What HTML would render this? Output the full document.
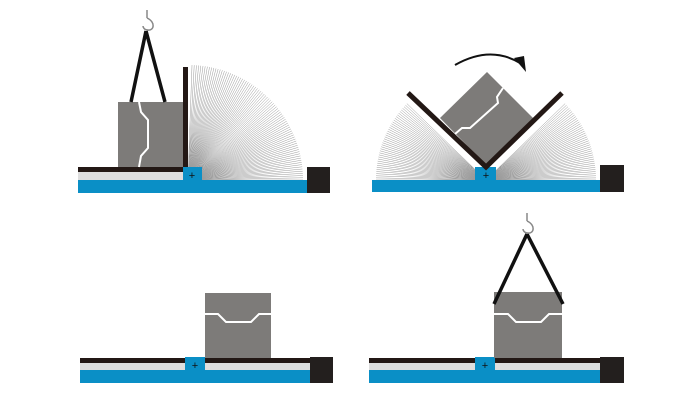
<!DOCTYPE html>
<html><head><meta charset="utf-8"><style>html,body{margin:0;padding:0;background:#fff;width:700px;height:400px;overflow:hidden}</style></head>
<body>
<svg id="s" width="700" height="400" viewBox="0 0 700 400" xmlns="http://www.w3.org/2000/svg">
<g id="fans" stroke="#9a9a9a" stroke-width="0.5" fill="none"></g>
<!-- Panel 1 -->
<rect x="78" y="180" width="229" height="13" fill="#0a8fc6"/>
<rect x="78" y="172" width="105" height="8" fill="#dedede"/>
<rect x="78" y="167" width="105" height="5" fill="#231815"/>
<rect x="183" y="167" width="19" height="14" fill="#0a8fc6"/>
<text x="192" y="179" font-family="Liberation Sans, sans-serif" font-size="11" text-anchor="middle" fill="#111">+</text>
<rect x="307" y="167" width="23" height="26" fill="#231f1e"/>
<rect x="183" y="67" width="5" height="100" fill="#231815"/>
<rect x="118" y="102" width="65" height="65" fill="#7d7b79"/>
<path d="M139 102 L141 112 L148 120 L148 148 L141 156 L139 167" stroke="#fff" stroke-width="2" fill="none"/>
<path d="M146 31 L131 102 M146 31 L165 102" stroke="#111" stroke-width="3.5" fill="none"/>
<path d="M147 10 V18 M147 18 C156 22 154 31 148 30 C144 30 143 27 143 26" stroke="#888" stroke-width="1.5" fill="none"/>
<!-- Panel 2 -->
<rect x="372" y="180" width="229" height="12" fill="#0a8fc6"/>
<rect x="475" y="167" width="21" height="14" fill="#0a8fc6"/>
<text x="486" y="179" font-family="Liberation Sans, sans-serif" font-size="11" text-anchor="middle" fill="#111">+</text>
<rect x="600" y="165" width="24" height="27" fill="#231f1e"/>
<polygon points="487,72 533,118 486,165 440,118" fill="#7d7b79"/>
<path d="M503 88 L497 97 L498 103 L470 128 L462 128 L455 134" stroke="#fff" stroke-width="2" fill="none"/>
<path d="M408 93 L486 167 L562 93" stroke="#231815" stroke-width="5" fill="none"/>
<path d="M455 65 Q490 45 520 63" stroke="#111" stroke-width="2" fill="none"/>
<polygon points="514,58 526,72 524,56" fill="#111"/>
<!-- Panel 3 -->
<rect x="80" y="370" width="230" height="13" fill="#0a8fc6"/>
<rect x="80" y="363" width="230" height="7" fill="#dedede"/>
<rect x="80" y="358" width="230" height="5" fill="#231815"/>
<rect x="185" y="357" width="20" height="14" fill="#0a8fc6"/>
<text x="195" y="369" font-family="Liberation Sans, sans-serif" font-size="11" text-anchor="middle" fill="#111">+</text>
<rect x="310" y="357" width="23" height="26" fill="#231f1e"/>
<rect x="205" y="293" width="66" height="65" fill="#7d7b79"/>
<path d="M205 314 L218 314 L226 322 L251 322 L259 314 L271 314" stroke="#fff" stroke-width="2" fill="none"/>
<!-- Panel 4 -->
<rect x="369" y="370" width="231" height="13" fill="#0a8fc6"/>
<rect x="369" y="363" width="231" height="7" fill="#dedede"/>
<rect x="369" y="358" width="231" height="5" fill="#231815"/>
<rect x="475" y="357" width="20" height="14" fill="#0a8fc6"/>
<text x="485" y="369" font-family="Liberation Sans, sans-serif" font-size="11" text-anchor="middle" fill="#111">+</text>
<rect x="600" y="357" width="24" height="26" fill="#231f1e"/>
<rect x="494" y="292" width="68" height="66" fill="#7d7b79"/>
<path d="M494 314 L508 314 L516 322 L541 322 L549 314 L562 314" stroke="#fff" stroke-width="2" fill="none"/>
<path d="M527 234 L494 304 M527 234 L563 304" stroke="#111" stroke-width="3.5" fill="none"/>
<path d="M527 213 V221 M527 221 C536 225 534 234 528 233 C524 233 523 230 523 229" stroke="#888" stroke-width="1.5" fill="none"/>
</svg>
<script>
var g=document.getElementById('fans'),ns='http://www.w3.org/2000/svg';
function fan(cx,cy,r,a0,a1,n){for(var i=0;i<=n;i++){var a=(a0+(a1-a0)*i/n)*Math.PI/180;var l=document.createElementNS(ns,'line');l.setAttribute('x1',cx);l.setAttribute('y1',cy);l.setAttribute('x2',cx+r*Math.cos(a));l.setAttribute('y2',cy-r*Math.sin(a));g.appendChild(l);}}
fan(188,180,115,0,88,80);
fan(486,180,110,0,44,40);
fan(486,180,110,136,180,40);
</script>
</body></html>
